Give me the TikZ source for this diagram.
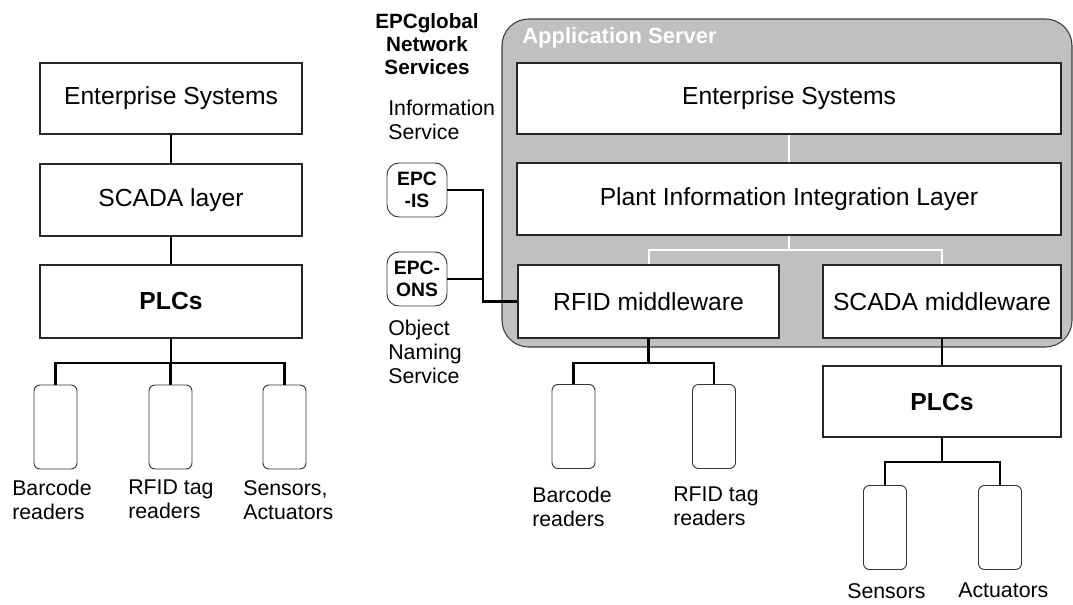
\documentclass[tikz,border=0pt]{standalone}
\usepackage{fontspec}
\setmainfont{Liberation Sans}
\usepackage{xcolor}
\usepackage{tikz}
\definecolor{srvgray}{HTML}{C0C0C0}
\definecolor{srvedge}{HTML}{3C3C3C}

\begin{document}
\begin{tikzpicture}[x=0.75pt, y=-0.75pt,
                every node/.append style = {inner sep=0pt},
                layer/.style = {draw=black!85, line width=1pt, fill=white, font=\fontsize{18.5}{22}\selectfont},
                boldlayer/.style = {layer, font=\bfseries\fontsize{18.5}{22}\selectfont},
                dev/.style = {draw=black!80, line width=0.7pt, fill=white, rounded corners=4.5pt, minimum width=32.25pt, minimum height=63pt},
                caption/.style = {anchor=north west, align=left, font=\fontsize{16}{18}\selectfont},
                epcbox/.style = {draw=black!80, line width=0.7pt, fill=white, rounded corners=9pt, minimum width=45pt, minimum height=40.5pt, align=center, font=\bfseries\fontsize{14.5}{16}\selectfont},
                appsrv/.style = {draw=srvedge, line width=0.8pt, fill=srvgray, rounded corners=20pt, minimum width=427.5pt, minimum height=246pt},
                link/.style = {line width=2pt},
                wlink/.style = {draw=white, line width=1.5pt}]
            \useasboundingbox (0,0) rectangle (1073,604);

            % classic stack
            \node[layer, minimum width=196.5pt, minimum height=53.25pt] (lent) at (171,98.5) {Enterprise Systems};
            \node[layer, minimum width=196.5pt, minimum height=54pt] (lscada) at (171,200) {SCADA layer};
            \node[boldlayer, minimum width=196.5pt, minimum height=54.75pt] (lplc) at (171,301.5) {PLCs};
            \node[dev] (lbar) at (55.5,427) {};
            \node[dev] (ltag) at (170.5,427) {};
            \node[dev] (lsens) at (284.5,427) {};
            \coordinate (lbus) at (171,363);
            \draw[link] (lent) -- (lscada);
            \draw[link] (lscada) -- (lplc);
            \draw[link] (lplc) -- (lbus);
            \draw[link] (lbus) -| (lbar);
            \draw[link] (lbus) -| (ltag);
            \draw[link] (lbus) -| (lsens);
            \node[caption] (lbarlbl) at (12,480) {Barcode\\readers};
            \node[caption] (ltaglbl) at (128,480) {RFID tag\\readers};
            \node[caption] (lsenslbl) at (243,480) {Sensors,\\Actuators};

            % application server
            \node[appsrv] (app) at (787,183) {};
            \node[anchor=base west, text=white, font=\bfseries\fontsize{16.5}{20}\selectfont] (apptitle) at (522,43) {Application Server};
            \node[layer, minimum width=408pt, minimum height=53.25pt] (rent) at (789,98.5) {Enterprise Systems};
            \node[layer, minimum width=408pt, minimum height=54pt] (rpil) at (789,199) {Plant Information Integration Layer};
            \node[layer, minimum width=195.75pt, minimum height=54.75pt] (rfidmw) at (648.5,301.5) {RFID middleware};
            \node[layer, minimum width=178.5pt, minimum height=54.75pt] (scadamw) at (942,301.5) {SCADA middleware};
            \coordinate (wbus) at (789,250);
            \draw[wlink] (rent) -- (rpil);
            \draw[wlink] (rpil) -- (wbus) -| (rfidmw);
            \draw[wlink] (wbus) -| (scadamw);

            % EPCglobal side
            \node[anchor=north, align=center, font=\bfseries\fontsize{15.5}{17.25}\selectfont] (epcnet) at (427,13) {EPCglobal\\Network\\Services};
            \node[caption] (infolbl) at (388,100) {Information\\Service};
            \node[epcbox] (epcis) at (417,190) {EPC\\-IS};
            \node[epcbox] (epcons) at (417,279) {EPC-\\ONS};
            \node[caption] (onslbl) at (388,320) {Object\\Naming\\Service};
            \coordinate (epcj) at (483,279);
            \draw[link] (epcis) -| (epcj) |- (rfidmw);
            \draw[link] (epcons) -- (epcj);

            % RFID readers
            \node[dev] (rbar) at (573.5,426.5) {};
            \node[dev] (rtag) at (714,426.5) {};
            \coordinate (rfbus) at (648.5,363);
            \draw[link] (rfidmw) -- (rfbus);
            \draw[link] (rfbus) -| (rbar);
            \draw[link] (rfbus) -| (rtag);
            \node[caption] (rbarlbl) at (532,487) {Barcode\\readers};
            \node[caption] (rtaglbl) at (673,487) {RFID tag\\readers};

            % SCADA branch
            \node[boldlayer, minimum width=178.5pt, minimum height=53.25pt] (rplc) at (942,401.5) {PLCs};
            \node[dev] (rsens) at (885,527.5) {};
            \node[dev] (ract) at (1000,527.5) {};
            \coordinate (plbus) at (942,462);
            \draw[link] (scadamw) -- (rplc);
            \draw[link] (rplc) -- (plbus);
            \draw[link] (plbus) -| (rsens);
            \draw[link] (plbus) -| (ract);
            \node[caption] (rsenslbl) at (847,583) {Sensors};
            \node[caption] (ractlbl) at (958,583) {Actuators};
            \end{tikzpicture}
\end{document}
